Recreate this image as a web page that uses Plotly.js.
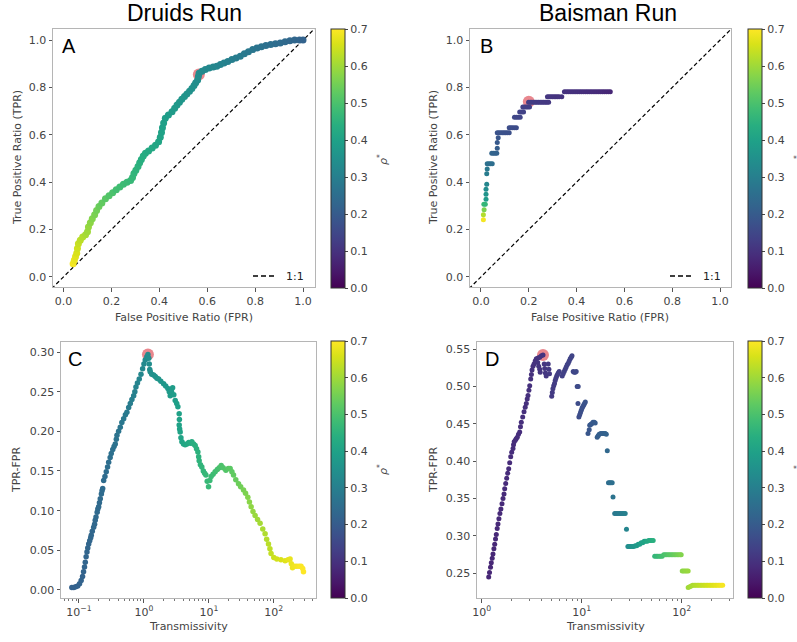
<!DOCTYPE html>
<html>
<head>
<meta charset="utf-8">
<script src="https://cdn.plot.ly/plotly-3.0.1.min.js"></script>
<style>html,body{margin:0;padding:0;background:#fff}#chart{width:797px;height:642px}</style>
</head>
<body>
<div id="chart"></div>
<script>
// ---------- Panel titles / labels ----------
const siteTitles = ["Druids Run", "Baisman Run"];
const panelLetters = ["A", "B", "C", "D"];
const rocXLabel = "False Positive Ratio (FPR)";
const rocYLabel = "True Positive Ratio (TPR)";
const diffXLabel = "Transmissivity";
const diffYLabel = "TPR-FPR";
const cbTitle = "<i>ρ</i><sup>*</sup>";
const legendLabel = "1:1";
const unitTicks = [0, 0.2, 0.4, 0.6, 0.8, 1.0];
const cbTicks = [0, 0.1, 0.2, 0.3, 0.4, 0.5, 0.6, 0.7];
const cTickVals = [0.1, 1, 10, 100];
const cTickText = ["10<sup>−1</sup>", "10<sup>0</sup>", "10<sup>1</sup>", "10<sup>2</sup>"];
const dTickVals = [1, 10, 100];
const dTickText = ["10<sup>0</sup>", "10<sup>1</sup>", "10<sup>2</sup>"];
const diagLine = [-0.05, 1.05];

// ---------- Panel A: Druids ROC ----------
const fprA = [0.040,0.045,0.050,0.055,0.058,0.062,0.070,0.080,0.092,0.100,
0.104,0.112,0.120,0.130,0.138,0.148,0.160,0.175,0.190,0.205,
0.220,0.235,0.250,0.265,0.280,0.288,0.294,0.302,0.311,0.318,
0.325,0.333,0.342,0.355,0.370,0.384,0.397,0.404,0.409,0.413,
0.418,0.425,0.438,0.453,0.464,0.474,0.484,0.494,0.505,0.515,
0.526,0.536,0.545,0.552,0.560,0.563,0.566,0.578,0.592,0.608,
0.625,0.640,0.655,0.670,0.686,0.703,0.720,0.738,0.755,0.772,
0.790,0.808,0.826,0.845,0.865,0.885,0.905,0.925,0.945,0.965,
0.985,1.000];
const tprA = [0.055,0.070,0.085,0.100,0.120,0.140,0.155,0.168,0.178,0.190,
0.210,0.228,0.245,0.262,0.280,0.297,0.312,0.330,0.342,0.355,
0.368,0.380,0.391,0.400,0.407,0.420,0.436,0.450,0.466,0.482,
0.496,0.510,0.522,0.532,0.544,0.556,0.571,0.590,0.610,0.630,
0.650,0.670,0.684,0.697,0.712,0.726,0.738,0.750,0.762,0.772,
0.784,0.796,0.808,0.820,0.832,0.846,0.860,0.869,0.876,0.882,
0.886,0.890,0.897,0.903,0.910,0.918,0.925,0.932,0.942,0.951,
0.960,0.967,0.972,0.977,0.982,0.985,0.988,0.993,0.997,1.000,
1.000,1.000];
const pA = [0.69,0.68,0.67,0.66,0.65,0.64,0.63,0.62,0.61,0.60,
0.59,0.58,0.57,0.56,0.55,0.54,0.53,0.52,0.51,0.50,
0.49,0.485,0.48,0.475,0.47,0.465,0.46,0.455,0.45,0.445,
0.44,0.435,0.43,0.425,0.42,0.415,0.41,0.405,0.40,0.397,
0.394,0.39,0.386,0.382,0.378,0.374,0.37,0.366,0.362,0.358,
0.354,0.35,0.347,0.344,0.341,0.338,0.335,0.332,0.329,0.326,
0.322,0.318,0.314,0.31,0.305,0.30,0.295,0.29,0.285,0.28,
0.275,0.27,0.265,0.26,0.255,0.25,0.245,0.24,0.235,0.23,
0.225,0.22];
const bestA = {fpr: [0.565], tpr: [0.855]};

// ---------- Panel B: Baisman ROC ----------
const fprB = [0.010,0.010,0.013,0.012,0.018,0.021,0.021,0.021,0.024,0.024,
0.026,0.026,0.033,0.040,0.047,0.045,0.052,0.059,0.066,0.068,
0.068,0.072,0.068,0.075,0.082,0.089,0.096,0.103,0.110,0.118,
0.118,0.125,0.132,0.140,0.148,0.140,0.148,0.156,0.164,0.162,
0.170,0.178,0.175,0.182,0.189,0.196,0.203,0.199,0.206,0.213,
0.220,0.227,0.234,0.241,0.248,0.255,0.262,0.269,0.276,0.283,
0.278,0.285,0.292,0.299,0.306,0.313,0.320,0.327,0.338,0.349,
0.357,0.365,0.373,0.381,0.389,0.397,0.405,0.413,0.421,0.429,
0.437,0.445,0.453,0.461,0.469,0.477,0.485,0.493,0.501,0.509,
0.517,0.525,0.533,0.541];
const tprB = [0.241,0.262,0.283,0.307,0.307,0.328,0.349,0.370,0.391,0.435,
0.456,0.478,0.478,0.478,0.478,0.522,0.522,0.522,0.522,0.543,
0.567,0.588,0.609,0.609,0.609,0.609,0.609,0.609,0.609,0.609,
0.630,0.630,0.630,0.630,0.630,0.674,0.674,0.674,0.674,0.696,
0.696,0.696,0.717,0.717,0.717,0.717,0.717,0.738,0.738,0.738,
0.738,0.738,0.738,0.738,0.738,0.738,0.738,0.738,0.738,0.738,
0.761,0.761,0.761,0.761,0.761,0.761,0.761,0.761,0.761,0.782,
0.782,0.782,0.782,0.782,0.782,0.782,0.782,0.782,0.782,0.782,
0.782,0.782,0.782,0.782,0.782,0.782,0.782,0.782,0.782,0.782,
0.782,0.782,0.782,0.782];
const pB = [0.69,0.62,0.56,0.47,0.46,0.38,0.36,0.34,0.32,0.29,
0.28,0.26,0.258,0.255,0.252,0.225,0.222,0.22,0.218,0.205,
0.195,0.185,0.178,0.177,0.176,0.175,0.174,0.173,0.172,0.171,
0.165,0.164,0.163,0.162,0.161,0.148,0.147,0.146,0.145,0.138,
0.137,0.136,0.132,0.131,0.13,0.129,0.128,0.125,0.124,0.123,
0.122,0.121,0.12,0.119,0.118,0.117,0.116,0.115,0.114,0.113,
0.110,0.109,0.108,0.107,0.106,0.105,0.104,0.103,0.102,0.102,
0.101,0.100,0.099,0.098,0.097,0.096,0.095,0.094,0.093,0.092,
0.091,0.090,0.089,0.088,0.087,0.086,0.085,0.084,0.083,0.082,
0.080,0.078,0.077,0.075];
const bestB = {fpr: [0.200], tpr: [0.740]};

// ---------- Panel C: Druids TPR-FPR vs transmissivity ----------
const tC = [0.0776,0.0832,0.0891,0.0955,0.102,0.108,0.1135,0.1175,0.1216,0.125,
0.1288,0.1327,0.1365,0.141,0.1462,0.1514,0.1545,0.1603,0.1683,0.1738,
0.1778,0.1828,0.1905,0.195,0.2009,0.2065,0.2128,0.2213,0.2265,0.2317,
0.2399,0.2512,0.263,0.2754,0.2864,0.302,0.3141,0.3311,0.3467,0.3622,
0.3758,0.3846,0.4074,0.4325,0.4571,0.4875,0.5188,0.547,0.5821,0.6166,
0.6531,0.695,0.7244,0.7534,0.7943,0.8472,0.9016,0.955,1.0,1.047,
1.109,1.153,1.189,1.208,1.23,1.25,1.318,1.409,1.496,1.585,
1.683,1.82,2.009,2.163,2.339,2.455,2.541,2.661,2.767,2.884,
3.034,3.199,3.334,3.491,3.52,3.491,3.548,3.614,3.715,3.846,
4.074,4.315,4.592,4.898,5.188,5.47,5.821,6.152,6.457,6.776,
6.966,7.096,7.413,7.798,8.222,8.61,8.995,9.441,9.886,10.35,
10.84,11.61,12.5,13.49,14.45,15.49,16.6,18.28,19.95,21.28,
22.65,23.99,26.0,28.64,30.9,34.2,36.73,39.81,42.17,44.77,
47.86,51.52,56.23,61.52,67.61,73.45,77.62,82.8,87.1,90.78,
100,111.2,128.8,149.3,166,178.2,186.2,194.1,208.9,225.9,
245.5,263,278.6,286.4];
const diffC = [0.003,0.003,0.004,0.005,0.008,0.012,0.017,0.023,0.029,0.035,
0.042,0.048,0.053,0.058,0.062,0.066,0.069,0.074,0.079,0.083,
0.088,0.092,0.098,0.102,0.105,0.110,0.115,0.121,0.125,0.128,
0.138,0.143,0.149,0.155,0.161,0.167,0.172,0.177,0.181,0.184,
0.190,0.195,0.200,0.205,0.211,0.216,0.221,0.224,0.230,0.235,
0.240,0.245,0.250,0.256,0.261,0.266,0.272,0.279,0.285,0.290,
0.294,0.297,0.292,0.285,0.278,0.275,0.272,0.271,0.269,0.267,
0.266,0.263,0.260,0.257,0.254,0.250,0.245,0.250,0.255,0.246,
0.239,0.235,0.231,0.222,0.215,0.208,0.203,0.199,0.192,0.187,
0.184,0.183,0.184,0.186,0.185,0.187,0.184,0.182,0.178,0.174,
0.168,0.163,0.158,0.155,0.150,0.147,0.145,0.137,0.130,0.138,
0.143,0.146,0.149,0.152,0.154,0.157,0.154,0.151,0.153,0.153,
0.149,0.145,0.139,0.134,0.130,0.126,0.122,0.117,0.111,0.105,
0.099,0.094,0.089,0.084,0.077,0.071,0.064,0.058,0.052,0.046,
0.041,0.039,0.038,0.037,0.038,0.039,0.033,0.028,0.030,0.030,
0.030,0.030,0.027,0.023];
const pC = [0.215,0.216,0.217,0.218,0.219,0.22,0.221,0.222,0.223,0.224,
0.225,0.226,0.227,0.228,0.229,0.23,0.231,0.232,0.233,0.234,
0.235,0.236,0.237,0.238,0.239,0.24,0.241,0.242,0.243,0.244,
0.245,0.247,0.249,0.251,0.253,0.255,0.257,0.259,0.261,0.263,
0.265,0.267,0.27,0.273,0.276,0.279,0.282,0.285,0.289,0.293,
0.297,0.301,0.305,0.309,0.313,0.317,0.321,0.325,0.328,0.331,
0.334,0.337,0.339,0.34,0.341,0.342,0.346,0.35,0.354,0.358,
0.362,0.366,0.37,0.373,0.376,0.378,0.38,0.382,0.384,0.386,
0.39,0.393,0.396,0.399,0.40,0.401,0.402,0.404,0.406,0.408,
0.412,0.416,0.42,0.425,0.43,0.434,0.438,0.442,0.445,0.448,
0.45,0.452,0.455,0.458,0.461,0.464,0.467,0.469,0.471,0.474,
0.477,0.481,0.486,0.491,0.496,0.501,0.506,0.512,0.518,0.522,
0.526,0.53,0.536,0.542,0.548,0.556,0.562,0.57,0.576,0.582,
0.588,0.594,0.6,0.606,0.612,0.618,0.622,0.627,0.632,0.636,
0.645,0.652,0.66,0.668,0.674,0.678,0.68,0.683,0.687,0.691,
0.695,0.698,0.699,0.70];
const bestC = {t: [1.153], diff: [0.297]};

// ---------- Panel D: Baisman TPR-FPR vs transmissivity ----------
const tDRise = [1.175,1.197,1.225,1.247,1.274,1.297,1.324,1.349,1.374,1.400,
1.429,1.455,1.486,1.521,1.556,1.596,1.633,1.671,1.698,1.738,
1.778,1.820,1.862,1.905,1.950,1.995,2.056,2.080,2.113,2.168,
2.213,2.270,2.333,2.399,2.443,2.489,2.570,2.649,2.723,2.793,
2.851,2.904,2.965,3.020,3.090,3.141,3.184,3.258,3.334,3.428,
3.516,3.656,3.802,3.954,4.102];
const diffDRise = [0.245,0.251,0.258,0.264,0.270,0.276,0.283,0.289,0.296,0.302,
0.310,0.316,0.323,0.330,0.336,0.343,0.350,0.356,0.363,0.370,
0.377,0.384,0.390,0.398,0.406,0.412,0.417,0.422,0.426,0.428,
0.430,0.432,0.436,0.439,0.446,0.452,0.459,0.466,0.472,0.477,
0.483,0.488,0.495,0.501,0.510,0.516,0.522,0.527,0.530,0.534,
0.537,0.538,0.539,0.541,0.542];
const pDRise = [0.075,0.075,0.076,0.076,0.077,0.077,0.078,0.078,0.079,0.079,
0.080,0.080,0.081,0.081,0.082,0.082,0.083,0.083,0.084,0.084,
0.085,0.085,0.086,0.086,0.087,0.087,0.088,0.088,0.089,0.089,
0.090,0.090,0.091,0.091,0.092,0.092,0.093,0.093,0.094,0.094,
0.095,0.095,0.096,0.096,0.097,0.097,0.098,0.098,0.099,0.099,
0.100,0.100,0.101,0.101,0.102];
const tDFall = [3.631,3.715,3.802,3.846,4.217,4.266,4.335,4.416,4.624,4.699,
4.764,5.012,5.082,5.152,5.248,5.346,5.433,5.521,5.623,5.728,
5.834,5.957,6.383,6.531,6.683,6.839,6.998,7.161,7.328,7.499,
7.674,7.852,7.998,8.222,8.414,8.610,8.810,9.016,9.226,9.18,
9.376,9.550,9.727,9.908,10.09,10.28,10.47,10.67,10.87,11.56,
11.89,12.02,12.30,12.59,12.97,13.34,13.65,14.29,14.62,14.96,
15.49,16.03,16.60,17.18,17.62,18.03,18.53,19.05,19.59,20.18,
20.56,21.38,22.13,22.91,23.71,24.55,25.41,26.30,27.23,28.05,
28.97,29.85,30.90,31.99,33.11,34.28,35.48,36.73,38.02,39.36,
40.74,42.17,43.65,45.19,46.77,48.42,50.12,51.88,53.70,55.59,
57.54,59.57,61.66,63.83,66.07,68.39,70.79,73.28,75.86,78.52,
81.28,84.14,87.10,90.16,93.33,96.61,98.86,101.2,104.7,108.4,
112.2,116.1,116.1,120.2,124.5,128.8,133.4,138.0,142.9,147.9,
153.1,158.5,164.1,169.8,175.8,182.0,188.4,195.0,201.8,208.9,
216.3,223.9,231.7,239.9,248.3,257.0];
const diffDFall = [0.532,0.527,0.523,0.519,0.530,0.524,0.518,0.514,0.530,0.523,
0.517,0.487,0.492,0.497,0.501,0.504,0.508,0.511,0.514,0.516,
0.518,0.520,0.514,0.517,0.520,0.523,0.526,0.529,0.531,0.534,
0.537,0.539,0.541,0.520,0.519,0.519,0.520,0.500,0.500,0.477,
0.459,0.462,0.465,0.468,0.471,0.473,0.475,0.477,0.479,0.437,
0.442,0.448,0.449,0.450,0.452,0.452,0.451,0.432,0.434,0.436,
0.437,0.437,0.437,0.437,0.436,0.414,0.371,0.371,0.371,0.371,
0.352,0.330,0.330,0.330,0.330,0.330,0.330,0.330,0.330,0.309,
0.286,0.286,0.286,0.286,0.286,0.287,0.287,0.289,0.289,0.291,
0.291,0.293,0.293,0.293,0.294,0.294,0.294,0.294,0.273,0.273,
0.273,0.273,0.273,0.273,0.275,0.275,0.275,0.275,0.275,0.275,
0.275,0.275,0.275,0.275,0.275,0.275,0.275,0.253,0.253,0.253,
0.253,0.253,0.231,0.232,0.233,0.234,0.234,0.234,0.234,0.234,
0.234,0.234,0.234,0.234,0.234,0.234,0.234,0.234,0.234,0.234,
0.234,0.234,0.234,0.234,0.234,0.234];
const pDFall = [0.103,0.104,0.105,0.106,0.108,0.109,0.110,0.111,0.113,0.114,
0.115,0.118,0.119,0.120,0.121,0.122,0.123,0.124,0.125,0.126,
0.127,0.128,0.132,0.133,0.134,0.135,0.136,0.137,0.138,0.139,
0.140,0.141,0.142,0.146,0.148,0.150,0.152,0.156,0.158,0.160,
0.162,0.164,0.166,0.168,0.170,0.172,0.174,0.176,0.178,0.185,
0.187,0.189,0.191,0.193,0.195,0.197,0.199,0.205,0.207,0.209,
0.211,0.213,0.215,0.217,0.219,0.235,0.250,0.252,0.254,0.256,
0.265,0.280,0.283,0.286,0.289,0.292,0.295,0.298,0.301,0.315,
0.340,0.346,0.352,0.358,0.364,0.370,0.376,0.382,0.388,0.394,
0.400,0.406,0.412,0.418,0.424,0.430,0.436,0.442,0.460,0.466,
0.472,0.478,0.484,0.490,0.496,0.502,0.508,0.514,0.520,0.526,
0.532,0.538,0.544,0.550,0.556,0.562,0.568,0.580,0.583,0.586,
0.589,0.592,0.600,0.604,0.608,0.612,0.616,0.620,0.624,0.628,
0.632,0.636,0.640,0.644,0.648,0.652,0.656,0.660,0.664,0.668,
0.672,0.676,0.680,0.684,0.688,0.692];
const bestD = {t: [4.10], diff: [0.542]};

// ---------- Layout helpers (pixel geometry) ----------
const W = 797, H = 642;
const fx = px => px / W;
const fy = py => 1 - py / H;
const TICKFONT = {family: "DejaVu Sans", size: 11, color: "#444"};
const LABELFONT = {family: "DejaVu Sans", size: 11, color: "#444"};
const HIGHLIGHT = "#e9878e";

function axisBase(extra) {
  return Object.assign({
    showline: true, mirror: true, linecolor: "#b5b5b5", linewidth: 1,
    ticks: "outside", ticklen: 3.5, tickwidth: 1, tickcolor: "#555",
    showgrid: false, zeroline: false, tickfont: TICKFONT, fixedrange: true
  }, extra);
}
function minorLog(lo, hi) {
  const v = [];
  for (let e = lo; e <= hi; e++) for (let m = 2; m <= 9; m++) v.push(m * Math.pow(10, e));
  return v;
}
function colorbar(x0, top, bottom) {
  return {
    x: fx(x0), xanchor: "left", xref: "paper", xpad: 0,
    y: fy((top + bottom) / 2), yanchor: "middle", yref: "paper", ypad: 0,
    len: bottom - top, lenmode: "pixels", thickness: 14, thicknessmode: "pixels",
    outlinewidth: 1, outlinecolor: "#333",
    tickmode: "array", tickvals: cbTicks, tickformat: ".1f",
    ticks: "outside", ticklen: 3, tickcolor: "#444", tickfont: TICKFONT
  };
}
function mainMarker(p, size, cb) {
  return {color: p, colorscale: "Viridis", cmin: 0, cmax: 0.7, size: size,
          line: {width: 0}, showscale: true, colorbar: cb};
}
const diagStyle = {color: "#000", width: 1.2, dash: "4px,2.6px"};

const traces = [
  // A
  {x: diagLine, y: diagLine, mode: "lines", line: diagStyle, xaxis: "x", yaxis: "y", showlegend: false},
  {x: bestA.fpr, y: bestA.tpr, mode: "markers", marker: {color: HIGHLIGHT, size: 12}, xaxis: "x", yaxis: "y", showlegend: false},
  {x: fprA, y: tprA, mode: "markers", marker: mainMarker(pA, 7, colorbar(331, 29, 288)), xaxis: "x", yaxis: "y", showlegend: false},
  // B
  {x: diagLine, y: diagLine, mode: "lines", line: diagStyle, xaxis: "x2", yaxis: "y2", showlegend: false},
  {x: bestB.fpr, y: bestB.tpr, mode: "markers", marker: {color: HIGHLIGHT, size: 12}, xaxis: "x2", yaxis: "y2", showlegend: false},
  {x: fprB, y: tprB, mode: "markers", marker: mainMarker(pB, 5, colorbar(748, 29, 288)), xaxis: "x2", yaxis: "y2", showlegend: false},
  // C
  {x: bestC.t, y: bestC.diff, mode: "markers", marker: {color: HIGHLIGHT, size: 12}, xaxis: "x3", yaxis: "y3", showlegend: false},
  {x: tC, y: diffC, mode: "markers", marker: mainMarker(pC, 5.5, colorbar(331, 341, 598)), xaxis: "x3", yaxis: "y3", showlegend: false},
  // D
  {x: bestD.t, y: bestD.diff, mode: "markers", marker: {color: HIGHLIGHT, size: 12}, xaxis: "x4", yaxis: "y4", showlegend: false},
  {x: tDRise.concat(tDFall), y: diffDRise.concat(diffDFall), mode: "markers",
   marker: mainMarker(pDRise.concat(pDFall), 5, colorbar(748, 341, 598)), xaxis: "x4", yaxis: "y4", showlegend: false}
];

const ann = [];
function addText(text, x, y, opts) {
  ann.push(Object.assign({text: text, x: fx(x), y: fy(y), xref: "paper", yref: "paper",
    showarrow: false, xanchor: "center", yanchor: "middle", font: LABELFONT}, opts || {}));
}
// site titles
addText(siteTitles[0], 184, 13, {font: {family: "Liberation Sans, Arial", size: 23, color: "#000"}});
addText(siteTitles[1], 608, 13, {font: {family: "Liberation Sans, Arial", size: 23, color: "#000"}});
// panel letters
const letterFont = {family: "Liberation Sans, Arial", size: 20, color: "#000"};
addText(panelLetters[0], 60, 46, {xanchor: "left", font: letterFont});
addText(panelLetters[1], 478, 46, {xanchor: "left", font: letterFont});
addText(panelLetters[2], 66, 359, {xanchor: "left", font: letterFont});
addText(panelLetters[3], 483, 359, {xanchor: "left", font: letterFont});
// axis titles
addText(rocXLabel, 184, 317);
addText(rocXLabel, 600, 317);
addText(rocYLabel, 17, 158, {textangle: -90});
addText(rocYLabel, 433, 158, {textangle: -90});
addText(diffXLabel, 188, 626);
addText(diffXLabel, 605, 626);
addText(diffYLabel, 16, 470, {textangle: -90});
addText(diffYLabel, 433, 470, {textangle: -90});
// colorbar titles (right-hand ones sit on the page edge, as in the source figure)
addText(cbTitle, 382, 160, {textangle: -90});
addText(cbTitle, 382, 470, {textangle: -90});
addText(cbTitle, 799, 160, {textangle: -90});
addText(cbTitle, 799, 470, {textangle: -90});
// legend labels
addText(legendLabel, 284, 276, {xanchor: "left", font: {family: "DejaVu Sans", size: 11, color: "#222"}});
addText(legendLabel, 701, 276, {xanchor: "left", font: {family: "DejaVu Sans", size: 11, color: "#222"}});

const legendSample = (x0, x1, y) => ({type: "line", xref: "paper", yref: "paper",
  x0: fx(x0), x1: fx(x1), y0: fy(y), y1: fy(y), line: {color: "#000", width: 1.5, dash: "5px,3px"}});

const layout = {
  width: W, height: H, margin: {l: 0, r: 0, t: 0, b: 0},
  paper_bgcolor: "#fff", plot_bgcolor: "#fff", showlegend: false,
  xaxis: axisBase({domain: [fx(53), fx(315)], range: [-0.044, 1.05], tickmode: "array", tickvals: unitTicks, tickformat: ".1f", anchor: "y"}),
  yaxis: axisBase({domain: [fy(287), fy(29)], range: [-0.043, 1.047], tickmode: "array", tickvals: unitTicks, tickformat: ".1f", anchor: "x"}),
  xaxis2: axisBase({domain: [fx(470), fx(731)], range: [-0.046, 1.046], tickmode: "array", tickvals: unitTicks, tickformat: ".1f", anchor: "y2"}),
  yaxis2: axisBase({domain: [fy(287), fy(29)], range: [-0.043, 1.047], tickmode: "array", tickvals: unitTicks, tickformat: ".1f", anchor: "x2"}),
  xaxis3: axisBase({domain: [fx(61), fx(316)], type: "log", range: [-1.277, 2.65], tickmode: "array", tickvals: cTickVals, ticktext: cTickText, anchor: "y3",
    minor: {tickmode: "array", tickvals: minorLog(-2, 2), ticks: "outside", ticklen: 2, tickwidth: 0.8, tickcolor: "#555"}}),
  yaxis3: axisBase({domain: [fy(598), fy(342)], range: [-0.0101, 0.3126], tickmode: "array", tickvals: [0, 0.05, 0.1, 0.15, 0.2, 0.25, 0.3], tickformat: ".2f", anchor: "x3"}),
  xaxis4: axisBase({domain: [fx(477), fx(733)], type: "log", range: [-0.047, 2.513], tickmode: "array", tickvals: dTickVals, ticktext: dTickText, anchor: "y4",
    minor: {tickmode: "array", tickvals: minorLog(0, 2), ticks: "outside", ticklen: 2, tickwidth: 0.8, tickcolor: "#555"}}),
  yaxis4: axisBase({domain: [fy(598), fy(342)], range: [0.217, 0.5594], tickmode: "array", tickvals: [0.25, 0.3, 0.35, 0.4, 0.45, 0.5, 0.55], tickformat: ".2f", anchor: "x4"}),
  annotations: ann,
  shapes: [legendSample(253, 276, 276), legendSample(670, 693, 276)]
};

Plotly.newPlot("chart", traces, layout, {staticPlot: true, displayModeBar: false});
</script>
</body>
</html>
